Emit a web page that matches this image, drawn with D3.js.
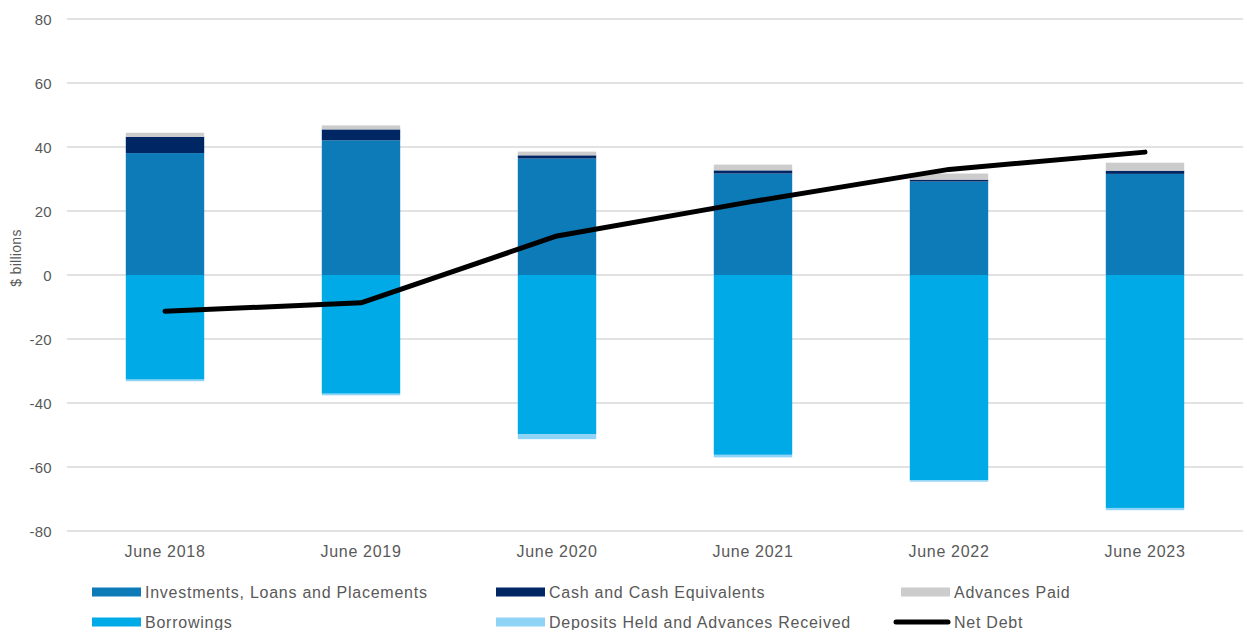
<!DOCTYPE html>
<html><head><meta charset="utf-8">
<script src="https://cdn.jsdelivr.net/npm/d3@7"></script>
<style>body{margin:0;background:#fff}svg{display:block}text{font-family:"Liberation Sans",Arial,sans-serif;fill:#595959}</style>
</head><body><svg id="c" width="1245" height="630"></svg>
<script>
const categories = ["June 2018","June 2019","June 2020","June 2021","June 2022","June 2023"];
const investments = [38.1, 42.1, 36.4, 31.7, 29.2, 31.6];
const cash = [5.1, 3.4, 1.0, 1.0, 0.6, 1.0];
const advancesPaid = [1.25, 1.25, 1.15, 1.8, 1.9, 2.5];
const borrowings = [-32.7, -37.1, -49.8, -56.2, -64.1, -72.8];
const deposits = [-0.5, -0.5, -1.5, -0.8, -0.5, -0.7];
const netDebt = [-11.3, -8.7, 12.2, 23.0, 33.0, 38.4];
const yTicks = [-80,-60,-40,-20,0,20,40,60,80];
const seriesNames = ["Investments, Loans and Placements","Cash and Cash Equivalents","Advances Paid","Borrowings","Deposits Held and Advances Received","Net Debt"];
const colors = ["#0c7bb8","#002664","#cccccc","#00aae6","#8fd3f6","#000000"];

const svg = d3.select("#c");
const x = d3.scaleBand().domain(categories).range([67,1243]).paddingInner(0.6).paddingOuter(0.3);
const y = d3.scaleLinear().domain([-80,80]).range([531,19]);

// gridlines
svg.append("g").selectAll("line").data(yTicks).join("line")
  .attr("x1",67).attr("x2",1243).attr("y1",d=>y(d)).attr("y2",d=>y(d))
  .attr("stroke","#d9d9d9").attr("stroke-width",1.3);

// y axis labels
const yAxis = d3.axisLeft(y).tickValues(yTicks).tickSize(0).tickPadding(0).tickFormat(d=>String(d));
const ga = svg.append("g").attr("transform","translate(52,0)").call(yAxis);
ga.select(".domain").remove();
ga.selectAll("text").attr("font-size",15).style("font-family","Liberation Sans, Arial").attr("fill","#595959").attr("dy","0.35em").attr("letter-spacing",0.3);

svg.append("text").attr("transform","translate(21,258) rotate(-90)").attr("text-anchor","middle").attr("font-size",14).attr("letter-spacing",0.3).text("$ billions");

// x axis
const xAxis = d3.axisBottom(x).tickSize(0).tickPadding(0);
const gx = svg.append("g").attr("transform","translate(0,551)").call(xAxis);
gx.select(".domain").remove();
gx.selectAll("text").attr("font-size",16).style("font-family","Liberation Sans, Arial").attr("fill","#595959").attr("dy","0.35em").attr("letter-spacing",0.7);

// stacks
const posSeries = [investments, cash, advancesPaid];
const negSeries = [borrowings, deposits];
const bars = svg.append("g");
categories.forEach((c,i)=>{
  let base = 0;
  posSeries.forEach((s,k)=>{
    const v = s[i];
    bars.append("rect").attr("x",x(c)).attr("width",x.bandwidth())
      .attr("y",y(base+v)).attr("height",y(base)-y(base+v)).attr("fill",colors[k]);
    base += v;
  });
  base = 0;
  negSeries.forEach((s,k)=>{
    const v = s[i];
    bars.append("rect").attr("x",x(c)).attr("width",x.bandwidth())
      .attr("y",y(base)).attr("height",y(base+v)-y(base)).attr("fill",colors[3+k]);
    base += v;
  });
});

// net debt line
const line = d3.line().x((d,i)=>x(categories[i])+x.bandwidth()/2).y(d=>y(d));
svg.append("path").datum(netDebt).attr("d",line).attr("fill","none")
  .attr("stroke","#000").attr("stroke-width",5).attr("stroke-linecap","round").attr("stroke-linejoin","round");

// legend
const legX = [92, 496, 901];
const legY = [592, 622];
const lg = svg.append("g");
seriesNames.forEach((n,k)=>{
  const cx = legX[k%3], cy = legY[Math.floor(k/3)];
  if (k===5) {
    lg.append("line").attr("x1",cx-5).attr("x2",cx+47).attr("y1",cy).attr("y2",cy)
      .attr("stroke","#000").attr("stroke-width",5).attr("stroke-linecap","round");
  } else {
    lg.append("rect").attr("x",cx).attr("y",cy-4.5).attr("width",49).attr("height",9).attr("fill",colors[k]);
  }
  lg.append("text").attr("x",cx+53).attr("y",cy).attr("dy","0.35em").attr("font-size",16).attr("letter-spacing",0.75).text(n);
});
</script></body></html>
